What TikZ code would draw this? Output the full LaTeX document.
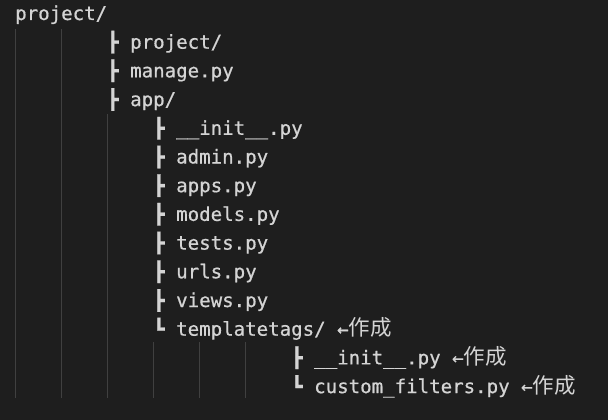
\documentclass[tikz,border=0pt]{standalone}
\usepackage{fontspec}
\setmonofont[FakeBold=0.6]{DejaVu Sans Mono}
\newfontfamily\cjk{Noto Sans CJK JP}
\usetikzlibrary{positioning}
\definecolor{fonsi}{HTML}{1E1E1E}
\definecolor{textei}{HTML}{D4D4D4}
\definecolor{guiai}{HTML}{404040}
\tikzset{
      myfila/.style={
        inner sep=0pt,
        text=textei,
        text height=15pt,
        text depth=4.5pt,
        font=\ttfamily\fontsize{19.1}{28.4}\selectfont
      },
      myguia/.style={
        draw=guiai,
        line width=1pt
      },
    }
\newcommand{\marcanou}{{\cjk\fontsize{21.5}{21.5}\selectfont 作成}}

\begin{document}
\begin{tikzpicture}[x=1pt,y=-1pt,node distance=8.8pt and 0pt]

            \fill[fonsi] (0,0) rectangle (608,420);
            \useasboundingbox (0,0) rectangle (608,420);

            %Guies
            \foreach \x in {15.5,61.5} \draw[myguia] (\x,29) -- (\x,398);
            \draw[myguia] (107.5,114) -- (107.5,398);
            \foreach \x in {153.5,199.5,245.5} \draw[myguia] (\x,342) -- (\x,398);

            %Arrel
            \node[myfila,anchor=base west] at (15,20)
              (raiz)
              {project/};

            %Nivell 1
            \node[myfila,below right=8.8pt and 92pt of raiz.south west]
              (proyecto)
              {┣ project/};
            \node[myfila,below right=of proyecto.south west]
              (manage)
              {┣ manage.py};
            \node[myfila,below right=of manage.south west]
              (app)
              {┣ app/};

            %Nivell 2
            \node[myfila,below right=8.8pt and 46pt of app.south west]
              (init)
              {┣ \_\_init\_\_.py};
            \node[myfila,below right=of init.south west]
              (admin)
              {┣ admin.py};
            \node[myfila,below right=of admin.south west]
              (apps)
              {┣ apps.py};
            \node[myfila,below right=of apps.south west]
              (models)
              {┣ models.py};
            \node[myfila,below right=of models.south west]
              (tests)
              {┣ tests.py};
            \node[myfila,below right=of tests.south west]
              (urls)
              {┣ urls.py};
            \node[myfila,below right=of urls.south west]
              (views)
              {┣ views.py};
            \node[myfila,below right=of views.south west]
              (tags)
              {┗ templatetags/ ←\marcanou};

            %Nivell 3
            \node[myfila,below right=8.8pt and 138pt of tags.south west]
              (tagsinit)
              {┣ \_\_init\_\_.py ←\marcanou};
            \node[myfila,below right=of tagsinit.south west]
              (filtros)
              {┗ custom\_filters.py ←\marcanou};

          \end{tikzpicture}
\end{document}
